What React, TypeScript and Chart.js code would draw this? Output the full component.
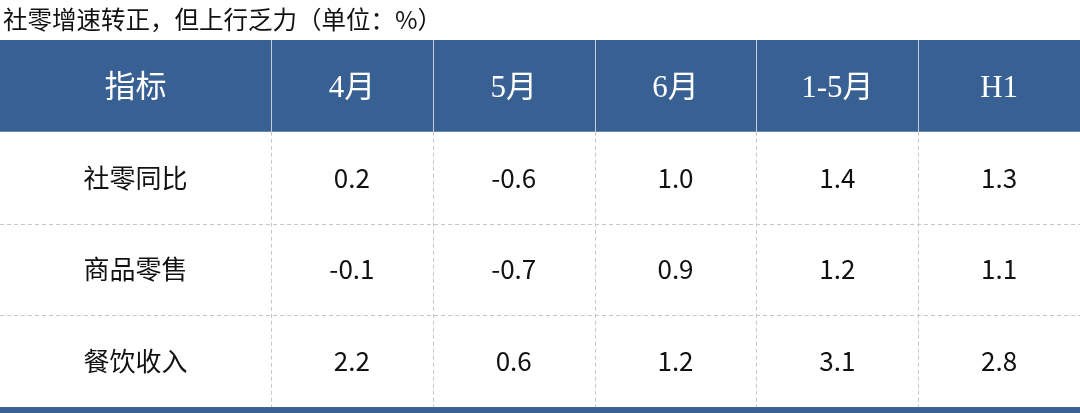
import React, { useEffect, useRef } from 'react';
import { Chart, registerables } from 'chart.js';

Chart.register(...registerables);

const TITLE = '社零增速转正，但上行乏力（单位：%）';
const CORNER = '指标';
const COLUMNS = ['4月', '5月', '6月', '1-5月', 'H1'];
const ROWS = ['社零同比', '商品零售', '餐饮收入'];
const RETAIL = [0.2, -0.6, 1.0, 1.4, 1.3];
const GOODS = [-0.1, -0.7, 0.9, 1.2, 1.1];
const CATERING = [2.2, 0.6, 1.2, 3.1, 2.8];
const VALUES = [RETAIL, GOODS, CATERING];

// layout (relative units on the chart's own scales)
const FIRST_W = 1.675;
const BOTTOM = 0.065;
const BLUE = '#386092';

const edge = (i: number) => (i === 0 ? 0 : FIRST_W + (i - 1));
const center = (i: number) => (edge(i) + edge(i + 1)) / 2;

const tablePlugin = {
  id: 'tableDraw',
  beforeDatasetsDraw(chart: any) {
    const { ctx, scales } = chart;
    const x = scales.x;
    const y = scales.y;
    const px = (v: number) => x.getPixelForValue(v);
    const py = (v: number) => y.getPixelForValue(v);
    const nCols = COLUMNS.length + 1;
    const nRows = ROWS.length + 1;
    const left = px(0);
    const right = px(edge(nCols));
    ctx.save();
    // title, in the band above the table
    ctx.fillStyle = '#111111';
    ctx.font = "24.5px 'Noto Sans CJK SC'";
    ctx.textAlign = 'left';
    ctx.textBaseline = 'middle';
    ctx.fillText(TITLE, left + 3, py(0) / 2);
    // header band
    ctx.fillStyle = BLUE;
    ctx.fillRect(left, py(0), right - left, py(1) - py(0));
    ctx.strokeStyle = 'rgba(255,255,255,0.7)';
    ctx.lineWidth = 1;
    for (let i = 1; i < nCols; i++) {
      const xx = Math.round(px(edge(i))) + 0.5;
      ctx.beginPath();
      ctx.moveTo(xx, py(0));
      ctx.lineTo(xx, py(1));
      ctx.stroke();
    }
    ctx.setLineDash([4, 3]);
    ctx.strokeStyle = '#c6c6c6';
    for (let i = 1; i < nCols; i++) {
      const xx = Math.round(px(edge(i))) + 0.5;
      ctx.beginPath();
      ctx.moveTo(xx, py(1));
      ctx.lineTo(xx, py(nRows));
      ctx.stroke();
    }
    for (let r = 2; r < nRows; r++) {
      const yy = Math.round(py(r)) + 0.5;
      ctx.beginPath();
      ctx.moveTo(left, yy);
      ctx.lineTo(right, yy);
      ctx.stroke();
    }
    ctx.setLineDash([]);
    ctx.fillStyle = BLUE;
    ctx.fillRect(left, py(nRows), right - left, py(nRows + BOTTOM) - py(nRows));
    ctx.restore();
  },
  afterDatasetsDraw(chart: any) {
    const { ctx } = chart;
    ctx.save();
    ctx.textAlign = 'center';
    ctx.textBaseline = 'middle';
    chart.data.datasets.forEach((ds: any, di: number) => {
      const meta = chart.getDatasetMeta(di);
      ctx.fillStyle = ds.textColor;
      ctx.font = ds.textFont;
      meta.data.forEach((el: any, i: number) => {
        const t = ds.data[i].t;
        ctx.fillText(t, el.x, el.y + ds.textShift);
      });
    });
    ctx.restore();
  },
};

function App() {
  const ref = useRef<HTMLCanvasElement | null>(null);

  useEffect(() => {
    if (!ref.current) return;
    const headerData = [CORNER, ...COLUMNS].map((t, i) => ({ x: center(i), y: 0.5, t }));
    const labelData = ROWS.map((t, r) => ({ x: center(0), y: r + 1.5, t }));
    const valueData: any[] = [];
    VALUES.forEach((row, r) => {
      row.forEach((v, c) => {
        valueData.push({ x: center(c + 1), y: r + 1.5, t: v.toFixed(1) });
      });
    });
    const chart = new Chart(ref.current, {
      type: 'scatter',
      data: {
        datasets: [
          {
            data: headerData,
            pointRadius: 0,
            textColor: '#ffffff',
            textFont: "31px 'Liberation Serif', 'Noto Sans CJK SC'",
            textShift: 3,
          } as any,
          {
            data: labelData,
            pointRadius: 0,
            textColor: '#111111',
            textFont: "26px 'Noto Sans CJK SC'",
            textShift: 0,
          } as any,
          {
            data: valueData,
            pointRadius: 0,
            textColor: '#111111',
            textFont: "26px 'Noto Sans CJK SC'",
            textShift: 0,
          } as any,
        ],
      },
      options: {
        animation: false,
        responsive: false,
        events: [],
        layout: { padding: { top: 40, left: 0, right: 0, bottom: 0 } },
        plugins: {
          legend: { display: false },
          tooltip: { enabled: false },
          title: { display: false },
        },
        scales: {
          x: { type: 'linear', min: 0, max: FIRST_W + COLUMNS.length, display: false },
          y: { type: 'linear', min: 0, max: ROWS.length + 1 + BOTTOM, reverse: true, display: false },
        },
      },
      plugins: [tablePlugin],
    });
    return () => chart.destroy();
  }, []);

  return (
    <div style={{ position: 'absolute', left: 0, top: 0, width: 1080, height: 413, background: '#fff' }}>
      <canvas ref={ref} width={1080} height={413} />
    </div>
  );
}

export default App;
